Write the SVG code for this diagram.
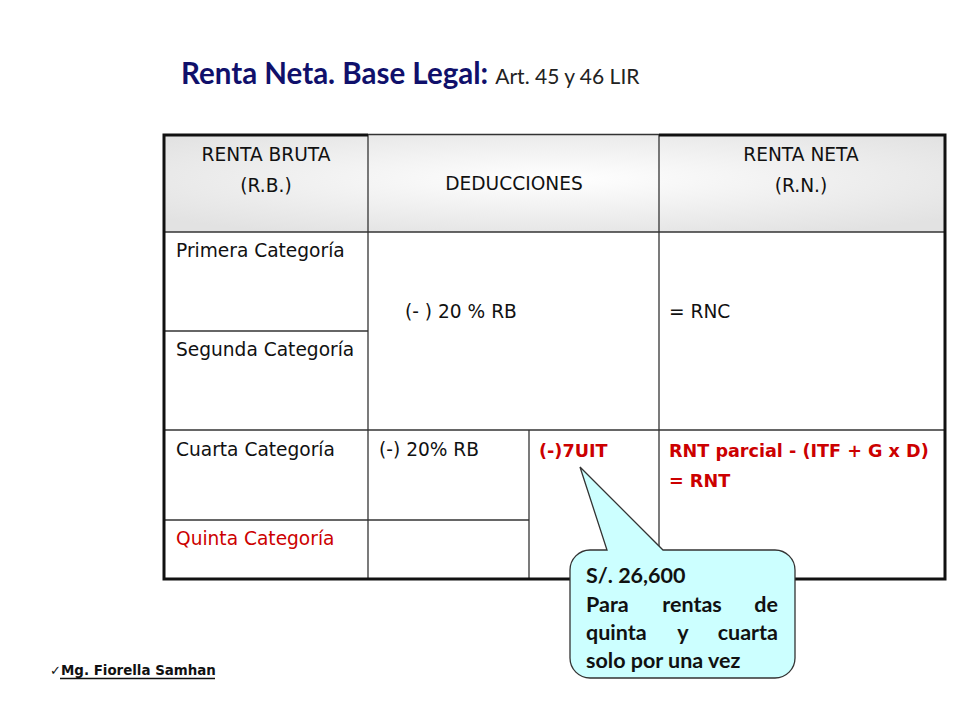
<svg xmlns="http://www.w3.org/2000/svg" width="960" height="720" viewBox="0 0 960 720">
<defs>
<radialGradient id="hdr" cx="50%" cy="45%" r="65%">
<stop offset="0" stop-color="#ffffff"/>
<stop offset="1" stop-color="#e2e2e2"/>
</radialGradient>
<style>
.t{font-family:"DejaVu Sans","Liberation Sans",sans-serif;font-size:18.6px;fill:#111}
.c{text-anchor:middle}
.r{fill:#cc0000}
.b{font-weight:bold;font-size:17.6px}
.thin{stroke:#333;stroke-width:1.3;fill:none}
.thick{stroke:#111;stroke-width:3;fill:none}
.co{font-family:Lato,"Open Sans",sans-serif;font-weight:bold;font-size:21.5px;fill:#111}
</style>
</defs>
<rect width="960" height="720" fill="#fff"/>

<g id="title">
<text x="181" y="84" font-family="Lato,'Open Sans',sans-serif" font-weight="bold" font-size="29.5" fill="#10106b">Renta Neta. Base Legal: <tspan font-weight="normal" font-size="21" fill="#222">Art. 45 y 46 LIR</tspan></text>
</g>

<g id="table">
<rect x="164" y="135" width="781" height="97" fill="url(#hdr)"/>
<rect x="164" y="232" width="781" height="347" fill="#fff"/>
<g id="grid">
<line class="thin" x1="164" y1="232" x2="945" y2="232"/>
<line class="thin" x1="164" y1="331" x2="368" y2="331"/>
<line class="thin" x1="164" y1="430" x2="945" y2="430"/>
<line class="thin" x1="164" y1="520" x2="529" y2="520"/>
<line class="thin" x1="368" y1="135" x2="368" y2="579"/>
<line class="thin" x1="659" y1="135" x2="659" y2="579"/>
<line class="thin" x1="529" y1="430" x2="529" y2="579"/>
<line class="thin" x1="368" y1="134.5" x2="659" y2="134.5"/>
<polyline class="thick" points="368,135 164,135 164,579 945,579 945,135 659,135"/>
</g>
<g id="header">
<text class="t c" x="266" y="161">RENTA BRUTA</text>
<text class="t c" x="266" y="192">(R.B.)</text>
<text class="t c" x="514" y="190">DEDUCCIONES</text>
<text class="t c" x="801" y="161">RENTA NETA</text>
<text class="t c" x="801" y="192">(R.N.)</text>
</g>
<g id="rows">
<text class="t" x="176" y="257">Primera  Categoría</text>
<text class="t" x="176" y="356">Segunda Categoría</text>
<text class="t" x="405" y="318">(- ) 20 % RB</text>
<text class="t" x="669" y="318">= RNC</text>
<text class="t" x="176" y="456">Cuarta Categoría</text>
<text class="t" x="379" y="456">(-) 20% RB</text>
<text class="t r b" x="539" y="457">(-)7UIT</text>
<text class="t r b" x="669" y="457">RNT parcial  - (ITF + G x D)</text>
<text class="t r b" x="669" y="487">= RNT</text>
<text class="t r" x="176" y="545">Quinta  Categoría</text>
</g>
</g>

<g id="callout">
<path d="M590,550 L607,550 L580,467 L663,550 L775,550 A20,20 0 0 1 795,570 L795,658 A20,20 0 0 1 775,678 L590,678 A20,20 0 0 1 570,658 L570,570 A20,20 0 0 1 590,550 Z" fill="#ccffff" stroke="#333" stroke-width="1.3"/>
<text class="co" x="586" y="583">S/. 26,600</text>
<text class="co" x="586" y="612">Para</text>
<text class="co" x="692" y="612" text-anchor="middle">rentas</text>
<text class="co" x="778" y="612" text-anchor="end">de</text>
<text class="co" x="586" y="640">quinta</text>
<text class="co" x="683" y="640" text-anchor="middle">y</text>
<text class="co" x="778" y="640" text-anchor="end">cuarta</text>
<text class="co" x="586" y="668">solo por una vez</text>
</g>

<g id="footer">
<text x="50" y="675" font-family="'DejaVu Sans',sans-serif" font-size="13" fill="#111">✓</text>
<text x="61" y="675" font-family="'DejaVu Sans',sans-serif" font-weight="bold" font-size="13.4" fill="#111">Mg. Fiorella Samhan</text>
<line x1="60" y1="678.5" x2="215" y2="678.5" stroke="#111" stroke-width="1.4"/>
</g>
</svg>
